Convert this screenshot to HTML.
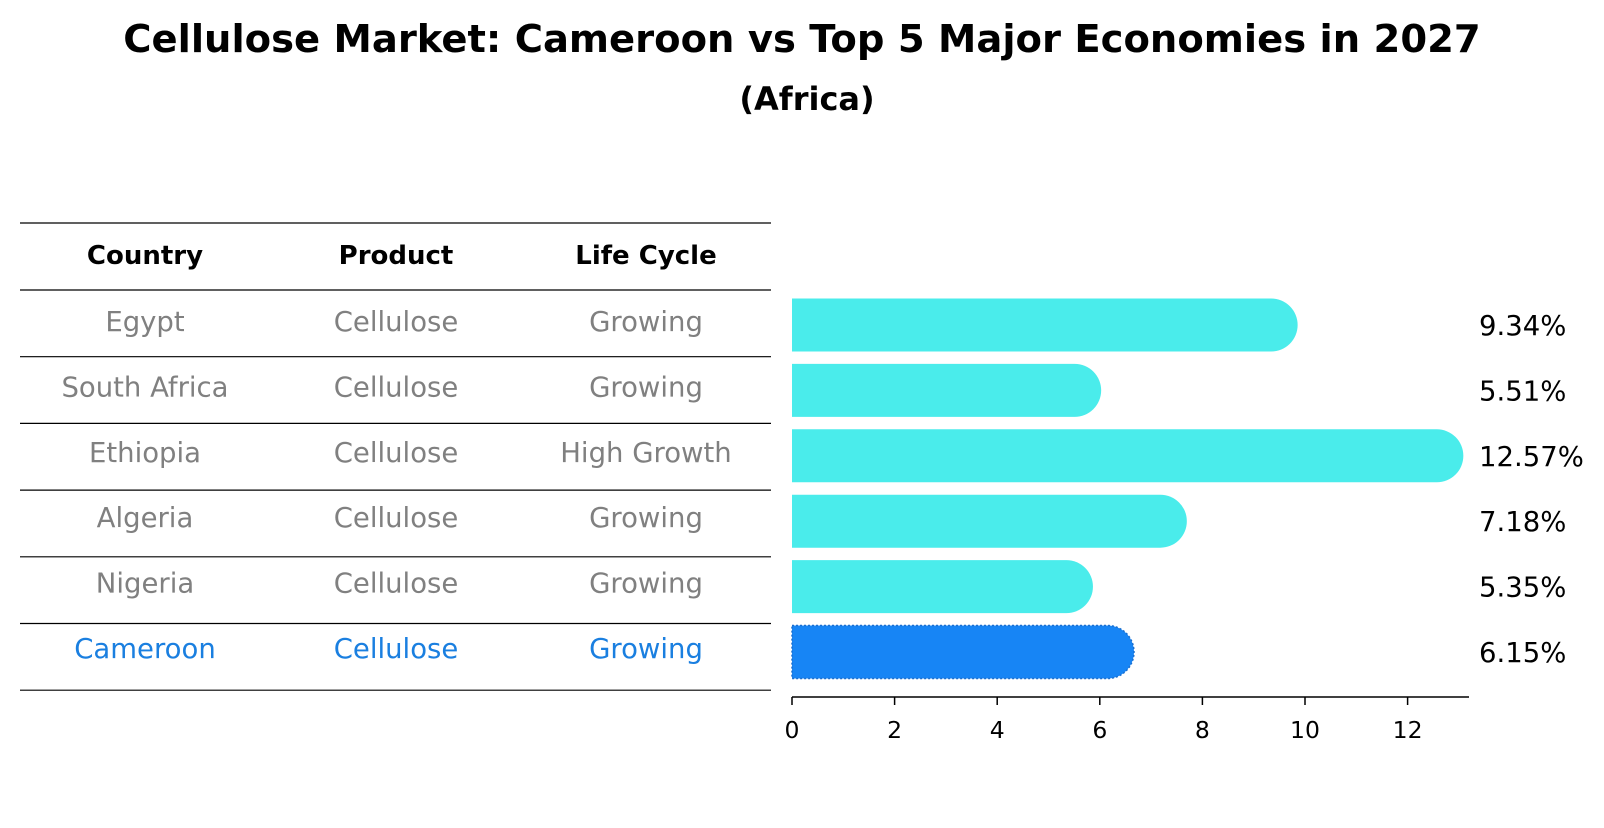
<!DOCTYPE html>
<html><head><meta charset="utf-8"><style>
body{margin:0;background:#fff;}
svg text{font-family:"DejaVu Sans","Liberation Sans",sans-serif;}
</style></head><body>
<svg width="1604" height="823" viewBox="0 0 1604 823">
<text x="802" y="52" text-anchor="middle" font-size="38.5" font-weight="bold">Cellulose Market: Cameroon vs Top 5 Major Economies in 2027</text>
<text x="807" y="110" text-anchor="middle" font-size="32" font-weight="bold">(Africa)</text>
<g id="table"></g>
<g id="bars"></g>
</svg>
<script>
const countries=["Egypt","South Africa","Ethiopia","Algeria","Nigeria","Cameroon"];
const products=["Cellulose","Cellulose","Cellulose","Cellulose","Cellulose","Cellulose"];
const lifeCycles=["Growing","Growing","High Growth","Growing","Growing","Growing"];
const values=[9.34,5.51,12.57,7.18,5.35,6.15];
const valueLabels=["9.34%","5.51%","12.57%","7.18%","5.35%","6.15%"];
const ticks=[0,2,4,6,8,10,12];

const NS="http://www.w3.org/2000/svg";
function mk(tag,attrs,parent){const e=document.createElementNS(NS,tag);for(const k in attrs)e.setAttribute(k,attrs[k]);parent.appendChild(e);return e;}
const x0=792,pxPer=51.3;
const xs=v=>x0+v*pxPer;
const rowY=i=>325+i*65.4;
const barH=53;
const T=document.getElementById('table'),B=document.getElementById('bars');
const colX=[145,396,646];
const lineYs=[223,290];
for(let i=0;i<countries.length;i++)lineYs.push(290+(i+1)*66.7);
lineYs.forEach((y,i)=>{const l=mk('line',{x1:20,x2:771,y1:y,y2:y,stroke:'#000','stroke-width':1.2},T);

});
["Country","Product","Life Cycle"].forEach((h,j)=>{const t=mk('text',{x:colX[j],y:264,'text-anchor':'middle','font-size':26,'font-weight':'bold'},T);t.textContent=h;

});
countries.forEach((c,i)=>{const y=rowY(i)+6;const col=i===countries.length-1?'#1a7fe0':'#808080';
[c,products[i],lifeCycles[i]].forEach((v,j)=>{const t=mk('text',{x:colX[j],y:y,'text-anchor':'middle','font-size':27.5,fill:col},T);t.textContent=v;

});});
values.forEach((v,i)=>{const yc=rowY(i),last=i===values.length-1;const xe=xs(v);const r=barH/2;
const d=`M${x0},${yc-r} L${xe},${yc-r} A${r},${r} 0 0 1 ${xe},${yc+r} L${x0},${yc+r} Z`;
const p=mk('path',{d:d,fill:last?'#1785f5':'#4aeceb'},B);
if(last){p.setAttribute('stroke','#1a6fd0');p.setAttribute('stroke-dasharray','2,2');p.setAttribute('stroke-width','1.5');}


const t=mk('text',{x:1479,y:yc+10,'font-size':27.5},B);t.textContent=valueLabels[i];

});
const ax=mk('line',{x1:x0,x2:1469,y1:697,y2:697,stroke:'#000','stroke-width':1.5},B);


ticks.forEach(t=>{const l=mk('line',{x1:xs(t),x2:xs(t),y1:697,y2:705,stroke:'#000','stroke-width':1.5},B);


const tx=mk('text',{x:xs(t),y:738,'text-anchor':'middle','font-size':23.5},B);tx.textContent=t;

});
</script>
</body></html>
